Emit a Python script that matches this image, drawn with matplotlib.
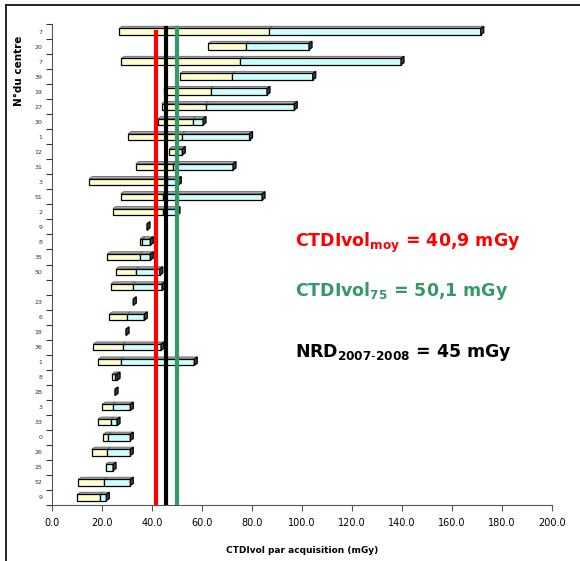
import matplotlib.pyplot as plt
from matplotlib.patches import Rectangle, Polygon
from matplotlib.lines import Line2D

# N° du centre, de haut en bas
centres = ['7', '20', '7', '39', '19', '27', '30', '1', '12', '31', '3', '51', '2', '9', '8', '35',
           '50', '', '23', '6', '18', '36', '1', '8', '28', '3', '33', '0', '26', '25', '52', '9']
# CTDIvol par acquisition (mGy) : min, médiane, max
min_vals = [26.9, 62.5, 27.7, 51.2, 44.7, 43.9, 42.3, 30.5, 46.9, 33.5, 14.9, 27.5, 24.3, 38.0, 35.2, 22.1,
            25.6, 23.5, 32.5, 22.9, 29.6, 16.5, 18.5, 23.9, 25.2, 20.1, 18.3, 20.5, 15.9, 21.6, 10.5, 10.1]
med_vals = [86.9, 77.6, 75.2, 72.1, 63.5, 61.6, 56.5, 52.1, 50.5, 48.3, 45.9, 44.3, 44.5, 38.0, 36.1, 35.2,
            33.6, 32.3, 32.5, 30.1, 29.6, 28.3, 27.5, 25.2, 25.2, 24.3, 23.5, 22.5, 22.1, 21.6, 20.9, 19.2]
max_vals = [171.5, 102.8, 139.6, 104.3, 86.0, 96.9, 60.4, 79.0, 52.1, 72.4, 50.5, 84.0, 50.0, 38.0, 39.3, 39.3,
            43.1, 44.0, 32.5, 36.9, 29.6, 43.6, 56.9, 26.0, 25.2, 31.3, 26.0, 31.3, 31.3, 24.4, 31.3, 21.7]

ctdi_moy = 41.5
nrd = 45.5
ctdi_75 = 50.1

n = len(centres)
h = 0.42    # hauteur de la face avant
dx = 1.2    # profondeur (effet 3D)
dy = 0.14


def face(ax, y, x0, x1, color):
    ax.add_patch(Rectangle((x0, y - h / 2), x1 - x0, h, facecolor=color, edgecolor='black', lw=0.9, zorder=2))
    ax.add_patch(Polygon([(x0, y + h / 2), (x1, y + h / 2), (x1 + dx, y + h / 2 + dy), (x0 + dx, y + h / 2 + dy)],
                         closed=True, facecolor='#a8a8a8', edgecolor='#666666', lw=0.6, zorder=1.9))


fig = plt.figure(figsize=(5.8, 5.61), dpi=100)
ax = fig.add_axes([0.0897, 0.0998, 0.862, 0.8574])

for i in range(n):
    y = n - 1 - i
    face(ax, y, min_vals[i], med_vals[i], '#ffffcc')
    face(ax, y, med_vals[i], max_vals[i], '#ccffff')
    x1 = max_vals[i]
    ax.add_patch(Polygon([(x1, y - h / 2), (x1 + dx, y - h / 2 + dy), (x1 + dx, y + h / 2 + dy), (x1, y + h / 2)],
                         closed=True, facecolor='#444444', edgecolor='black', lw=0.9, zorder=2.1))

ax.plot([ctdi_moy, ctdi_moy], [-0.5, n - 1], color='#ff0000', lw=3, zorder=5)
ax.plot([nrd, nrd], [-0.5, n - 0.75], color='black', lw=3, zorder=5)
ax.plot([ctdi_75, ctdi_75], [-0.5, n - 0.75], color='#339966', lw=3, zorder=5)

ax.set_xlim(0, 200)
ax.set_ylim(-0.5, n - 0.5)
ax.set_xticks(range(0, 201, 20))
ax.set_xticklabels([f'{v:.1f}' for v in range(0, 201, 20)], fontsize=7)
ax.set_yticks([k + 0.5 for k in range(-1, n)])
ax.set_yticklabels([])
ax.set_yticks(range(n), minor=True)
ax.set_yticklabels(centres[::-1], minor=True, fontsize=4.5, color='#333333')
ax.tick_params(axis='y', which='minor', length=0, pad=7)
ax.tick_params(axis='y', which='major', length=4, color='#333333')
ax.tick_params(axis='x', length=4, color='#555555', pad=5)
for s in ['top', 'right']:
    ax.spines[s].set_visible(False)
for s in ['left', 'bottom']:
    ax.spines[s].set_color('#555555')

ax.set_xlabel('CTDIvol par acquisition (mGy)', fontsize=6.5, fontweight='bold', labelpad=13)
fig.text(0.033, 0.873, 'N°du centre', rotation=90, fontsize=7.5, fontweight='bold',
         ha='center', va='center')

fig.text(0.508, 0.56, r'CTDIvol$_{\mathbf{moy}}$ = 40,9 mGy', color='#ff0000', fontsize=12.5,
         fontweight='bold', ha='left', va='baseline')
fig.text(0.508, 0.473, r'CTDIvol$_{\mathbf{75}}$ = 50,1 mGy', color='#339966', fontsize=12.5,
         fontweight='bold', ha='left', va='baseline')
fig.text(0.508, 0.364, r'NRD$_{\mathbf{2007\text{-}2008}}$ = 45 mGy', color='black', fontsize=12.5,
         fontweight='bold', ha='left', va='baseline')

fig.add_artist(Line2D([6 / 580, 6 / 580], [0, 1 - 5 / 561], color='black', lw=1.2))
fig.add_artist(Line2D([6 / 580, 1], [1 - 5 / 561, 1 - 5 / 561], color='black', lw=1.2))

fig.savefig('out.png', dpi=100)
